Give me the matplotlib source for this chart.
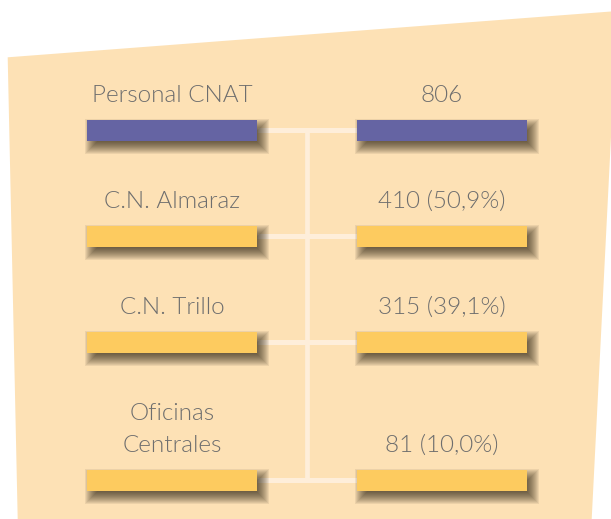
import matplotlib
matplotlib.use("Agg")
import matplotlib.pyplot as plt
from matplotlib.patches import Polygon
import numpy as np

# ---------------- data ----------------
categories = ["Personal CNAT", "C.N. Almaraz", "C.N. Trillo", "Oficinas\nCentrales"]
values = [806, 410, 315, 81]
shares = [None, 50.9, 39.1, 10.0]   # % of total staff

def fmt_value(v, s):
    if s is None:
        return f"{v}"
    return f"{v} ({s:.1f}%)".replace(".", ",")

value_labels = [fmt_value(v, s) for v, s in zip(values, shares)]

# ---------------- style ----------------
W, H = 611, 519
BG_COLOR = "#FDE1B5"
PURPLE = "#6564A3"
YELLOW = "#FDCB5F"
LINK = "#FEEEDA"
TEXT = "#6E6E6E"
SHADOW = "#2A2010"
bar_colors = [PURPLE, YELLOW, YELLOW, YELLOW]

plt.rcParams['font.family'] = ['Lato', 'DejaVu Sans']

fig = plt.figure(figsize=(W / 100, H / 100), dpi=100)
ax = fig.add_axes([0, 0, 1, 1])
ax.set_xlim(0, W)
ax.set_ylim(H, 0)
ax.axis("off")

# background shape (slanted card)
bg = Polygon([(7.7, 57.3), (611, 11.5), (611, 137), (591.7, 519), (17.7, 519)],
             closed=True, facecolor=BG_COLOR, edgecolor="none", zorder=0)
ax.add_patch(bg)

# layout
BAR_W = 170
BAR_H = 21
LEFT_X = 87
RIGHT_X = 357
ROW0 = 130.3
STEP = 106
LINE_H = 31.7
n = len(categories)
extra_lines = [c.count("\n") for c in categories]
ys = np.array([ROW0 + i * STEP + sum(extra_lines[:i + 1]) * LINE_H for i in range(n)])

# connectors
mid_x = (LEFT_X + BAR_W + RIGHT_X) / 2
for y in ys:
    ax.plot([LEFT_X + BAR_W, RIGHT_X], [y, y], color=LINK, lw=3.6,
            solid_capstyle="butt", zorder=1)
ax.plot([mid_x, mid_x], [ys[0], ys[-1] + 2], color=LINK, lw=3.4,
        solid_capstyle="butt", zorder=1)

# shadows (soft blur approximated by stacked, growing rectangles)
DX, DY = 5, 6
for k in range(-6, 8):
    for left in (LEFT_X, RIGHT_X):
        ax.barh(ys + DY, BAR_W + 2 * k, left=left + DX - k,
                height=BAR_H + 2 * k, color=SHADOW, alpha=0.078,
                linewidth=0, zorder=2)

# bars
ax.barh(ys, BAR_W, left=LEFT_X, height=BAR_H, color=bar_colors, linewidth=0, zorder=3)
ax.barh(ys, BAR_W, left=RIGHT_X, height=BAR_H, color=bar_colors, linewidth=0, zorder=3)

# labels
BASE_OFF = BAR_H / 2 + 17.5
FS = 17.5
WEIGHT = 300
for i, (cat, vl) in enumerate(zip(categories, value_labels)):
    base = ys[i] - BASE_OFF
    lines = cat.split("\n")
    for j, line in enumerate(reversed(lines)):
        ax.text(LEFT_X + BAR_W / 2, base - j * LINE_H, line, ha="center",
                va="baseline", fontsize=FS, color=TEXT, fontweight=WEIGHT, zorder=4)
    ax.text(RIGHT_X + BAR_W / 2, base, vl, ha="center", va="baseline",
            fontsize=FS, color=TEXT, fontweight=WEIGHT, zorder=4)

fig.savefig("out.png", dpi=100, facecolor="white")
